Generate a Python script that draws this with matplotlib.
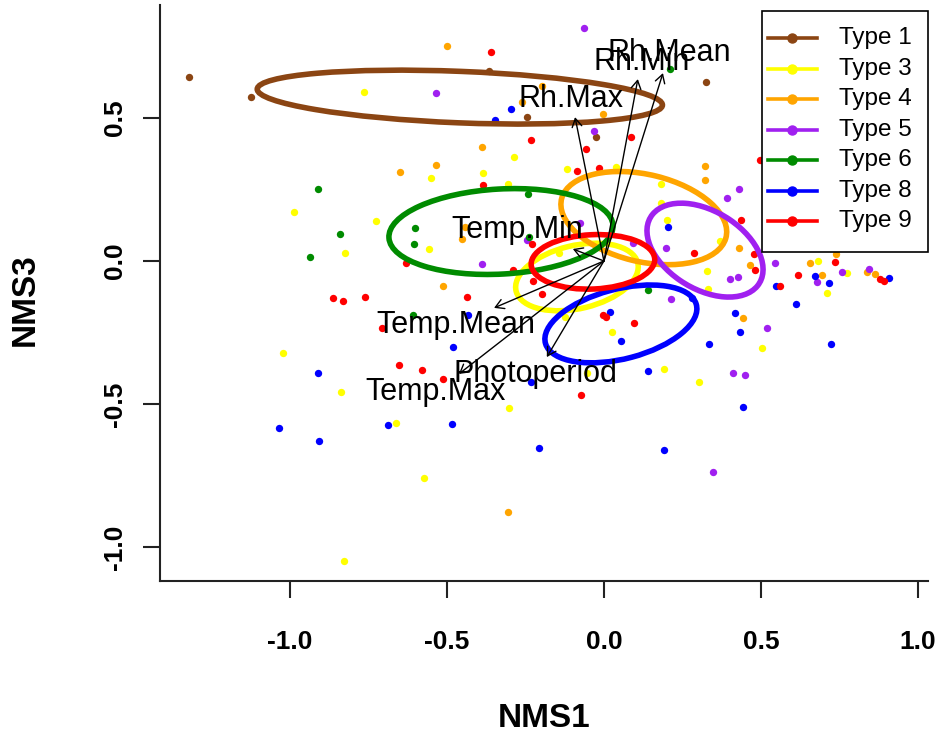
import matplotlib.pyplot as plt
from matplotlib.patches import Ellipse, Rectangle
from matplotlib.lines import Line2D

plt.rcParams['font.family'] = ['Liberation Sans', 'DejaVu Sans']
BOLD_FAMILY = ['Liberation Sans Narrow', 'Liberation Sans', 'DejaVu Sans']

# NMS site scores (axis 1, axis 3) per habitat type
type1_x = [-1.322, -1.124, -0.366, -0.245, -0.025, 0.325]
type1_y = [0.643, 0.573, 0.664, 0.503, 0.434, 0.626]

type3_x = [-0.764, -0.551, -0.287, -0.385, -0.306, -0.118, 0.038, 0.182, -0.987, -0.726,
           -0.825, -0.557, -1.022, -0.838, -0.662, -0.573, -0.828, -0.054, -0.303, 0.191,
           0.303, 0.201, 0.182, -0.143, 0.328, 0.331, 0.369, 0.503, 0.025, -0.124,
           0.682, 0.710, 0.774]
type3_y = [0.591, 0.290, 0.364, 0.308, 0.269, 0.322, 0.329, 0.269, 0.171, 0.140,
           0.028, 0.042, -0.322, -0.458, -0.566, -0.759, -1.049, -0.392, -0.514, -0.378,
           -0.423, 0.143, 0.203, 0.028, -0.035, -0.098, 0.070, -0.304, -0.248, -0.196,
           0.000, -0.112, -0.042]

type4_x = [-0.500, -0.535, -0.650, -0.197, -0.261, -0.003, -0.389, 0.322, 0.322, -0.443,
           -0.452, -0.513, -0.306, 0.430, 0.465, 0.443, 0.656, 0.739, 0.694, 0.838, 0.863]
type4_y = [0.752, 0.336, 0.311, 0.612, 0.556, 0.514, 0.399, 0.332, 0.283, 0.119,
           0.077, -0.087, -0.878, 0.045, -0.014, -0.199, -0.007, 0.024, -0.049, -0.038, -0.045]

type5_x = [-0.535, -0.064, -0.032, 0.430, 0.392, -0.245, -0.389, 0.197, 0.401, 0.427,
           0.213, 0.519, 0.411, 0.449, 0.347, -0.076, 0.092, 0.545, 0.678, 0.758, 0.844]
type5_y = [0.587, 0.815, 0.455, 0.252, 0.220, 0.073, -0.010, 0.045, -0.063, -0.056,
           -0.133, -0.234, -0.392, -0.399, -0.738, 0.133, 0.063, -0.007, -0.073, -0.038, -0.028]

type6_x = [-0.911, 0.210, -0.242, -0.841, -0.936, -0.602, -0.605, -0.608, 0.140, -0.239]
type6_y = [0.252, 0.671, 0.234, 0.094, 0.014, 0.115, 0.059, -0.189, -0.101, 0.084]

type8_x = [-0.296, -0.347, -0.433, -0.481, -0.911, -1.035, -0.908, -0.688, -0.484, -0.232,
           -0.207, 0.140, 0.443, 0.191, 0.204, 0.280, 0.417, 0.433, 0.334, 0.019,
           0.054, 0.548, 0.672, 0.717, 0.908, 0.611, 0.723]
type8_y = [0.531, 0.493, -0.189, -0.301, -0.392, -0.584, -0.629, -0.573, -0.570, -0.423,
           -0.654, -0.385, -0.510, -0.661, 0.119, -0.129, -0.182, -0.248, -0.290, -0.178,
           -0.280, -0.087, -0.052, -0.077, -0.059, -0.150, -0.290]

type9_x = [-0.360, 0.086, -0.232, -0.057, -0.385, -0.086, -0.016, 0.497, -0.631, -0.863,
           -0.831, -0.761, -0.436, -0.707, -0.653, -0.580, -0.513, -0.073, -0.229, -0.290,
           -0.226, -0.197, 0.287, 0.436, 0.478, 0.481, -0.003, 0.006, 0.096, 0.736,
           0.618, 0.879, 0.892, 0.561]
type9_y = [0.731, 0.434, 0.423, 0.392, 0.266, 0.315, 0.325, 0.353, -0.007, -0.129,
           -0.140, -0.126, -0.126, -0.234, -0.364, -0.381, -0.413, -0.469, 0.059, -0.031,
           -0.070, -0.115, 0.028, 0.143, 0.024, -0.031, -0.189, -0.196, -0.217, -0.003,
           -0.049, -0.063, -0.070, -0.087]

type_names = ['Type 1', 'Type 3', 'Type 4', 'Type 5', 'Type 6', 'Type 8', 'Type 9']
type_colors = ['#8B4513', '#FFFF00', '#FFA500', '#A020F0', '#008B00', '#0000FF', '#FF0000']

# group ellipses: centre, semi-axes and rotation (degrees)
ell_cx = [-0.459, -0.086, 0.127, 0.322, -0.328, 0.054, -0.035]
ell_cy = [0.573, -0.056, 0.150, 0.038, 0.103, -0.220, -0.003]
ell_a = [0.646, 0.200, 0.2705, 0.2087, 0.3575, 0.2497, 0.197]
ell_b = [0.090, 0.110, 0.152, 0.1325, 0.1487, 0.1215, 0.095]
ell_angle = [-2.5, 15.0, -15.2, -36.9, 3.6, 16.3, 3.0]

# environmental vectors (envfit) and their label positions
vec_names = ['Rh.Max', 'Rh.Min', 'Rh.Mean', 'Temp.Min', 'Temp.Mean', 'Temp.Max', 'Photoperiod']
vec_x = [-0.092, 0.108, 0.188, -0.099, -0.350, -0.462, -0.182]
vec_y = [0.503, 0.636, 0.657, 0.042, -0.164, -0.395, -0.336]
lab_x = [-0.105, 0.121, 0.207, -0.277, -0.471, -0.535, -0.217]
lab_y = [0.566, 0.696, 0.727, 0.108, -0.224, -0.458, -0.395]

xticks = [-1.0, -0.5, 0.0, 0.5, 1.0]
yticks = [-1.0, -0.5, 0.0, 0.5]

groups_x = [type1_x, type3_x, type4_x, type5_x, type6_x, type8_x, type9_x]
groups_y = [type1_y, type3_y, type4_y, type5_y, type6_y, type8_y, type9_y]

fig = plt.figure(figsize=(9.43, 7.38), dpi=100)
ax = fig.add_axes([0.1697, 0.2127, 0.8143, 0.7805])
ax.set_xlim(-1.414, 1.032)
ax.set_ylim(-1.119, 0.895)

for gx, gy, col in zip(groups_x, groups_y, type_colors):
    ax.scatter(gx, gy, s=28, color=col, linewidths=0, zorder=2)

for cx, cy, a, b, ang, col in zip(ell_cx, ell_cy, ell_a, ell_b, ell_angle, type_colors):
    ax.add_patch(Ellipse((cx, cy), 2 * a, 2 * b, angle=ang, fill=False,
                         edgecolor=col, lw=4.0, zorder=3))

for name, vx, vy, tx, ty in zip(vec_names, vec_x, vec_y, lab_x, lab_y):
    ax.annotate('', xy=(vx, vy), xytext=(0, 0),
                arrowprops=dict(arrowstyle='->,head_length=0.6,head_width=0.35',
                                lw=1.0, color='black', shrinkA=0, shrinkB=0))
    ax.text(tx, ty, name, fontsize=22, ha='center', va='center', zorder=5)

# axes styling: L-shaped box with outward ticks
for side in ['top', 'right']:
    ax.spines[side].set_visible(False)
for side in ['left', 'bottom']:
    ax.spines[side].set_linewidth(1.5)
    ax.spines[side].set_color('#222222')
ax.set_xticks(xticks)
ax.set_yticks(yticks)
ax.set_xticklabels([f'{v:.1f}' for v in xticks], fontsize=19, fontweight='bold',
                   family=BOLD_FAMILY)
ax.set_yticklabels([f'{v:.1f}' for v in yticks], fontsize=19, fontweight='bold',
                   family=BOLD_FAMILY, rotation=90, va='center')
ax.tick_params(axis='both', direction='out', length=12, width=1.5, color='#222222')
ax.tick_params(axis='x', pad=23)
ax.tick_params(axis='y', pad=12)

ax.set_xlabel('NMS1', fontsize=24, fontweight='bold', family=BOLD_FAMILY)
ax.set_ylabel('NMS3', fontsize=24, fontweight='bold', family=BOLD_FAMILY)
ax.xaxis.set_label_coords(0.5, -0.238)
ax.xaxis.label.set_va('center')
ax.yaxis.set_label_coords(-0.176, 0.488)
ax.yaxis.label.set_va('center')

# legend box in the top-right corner
ax.add_patch(Rectangle((0.784, 0.571), 0.216, 0.419, transform=ax.transAxes,
                       facecolor='white', edgecolor='black', lw=1.2, zorder=6, clip_on=False))
row_top = 0.9427
row_step = 0.05295
for i, (name, col) in enumerate(zip(type_names, type_colors)):
    ry = row_top - i * row_step
    ax.add_line(Line2D([0.7917, 0.8555], [ry, ry], transform=ax.transAxes, color=col,
                       lw=2.6, zorder=7))
    ax.add_line(Line2D([0.8229], [ry], transform=ax.transAxes, color=col, marker='o',
                       markersize=6.5, zorder=7))
    ax.text(0.884, ry, name, transform=ax.transAxes, fontsize=17.5, ha='left',
            va='center', zorder=7)

fig.savefig('out.png', dpi=100)
